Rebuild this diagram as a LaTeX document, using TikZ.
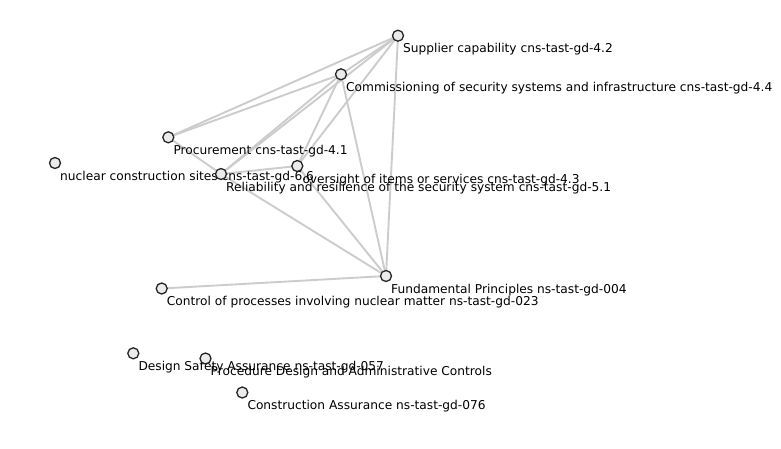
\documentclass[tikz,border=0pt]{standalone}
\usepackage{fontspec}
\setmainfont{DejaVu Sans}
\begin{document}
\begin{tikzpicture}[x=1pt,y=-1pt,
  vert/.style={circle,draw=black!85,line width=1.3pt,fill=black!8,minimum size=11pt,inner sep=0pt},
  edge/.style={draw=black!20,line width=1.9pt},
  lab/.style={anchor=base west,inner sep=0pt,font=\fontsize{12.2pt}{14pt}\selectfont,text=black}]
\useasboundingbox[fill=white] (0,0) rectangle (781,448);
% vertices (positions)
\coordinate (cS) at (398,35.7);
\coordinate (cC) at (341,74.3);
\coordinate (cP) at (168.3,137.3);
\coordinate (cN) at (55,163);
\coordinate (cR) at (221,174);
\coordinate (cO) at (297.3,166);
\coordinate (cF) at (386,276);
\coordinate (cK) at (161.7,288.5);
\coordinate (cD) at (133.3,353.3);
\coordinate (cQ) at (205.5,358.5);
\coordinate (cA) at (242.3,392.5);
% edges
\draw[edge] (cP) -- (cS);
\draw[edge] (cP) -- (cC);
\draw[edge] (cP) -- (cR);
\draw[edge] (cS) -- (cC);
\draw[edge] (cS) -- (cR);
\draw[edge] (cS) -- (cO);
\draw[edge] (cS) -- (cF);
\draw[edge] (cC) -- (cR);
\draw[edge] (cC) -- (cO);
\draw[edge] (cC) -- (cF);
\draw[edge] (cR) -- (cO);
\draw[edge] (cR) -- (cF);
\draw[edge] (cO) -- (cF);
\draw[edge] (cK) -- (cF);
% nodes and labels
\node[vert] (N) at (cN) {};
\node[lab] (Nl) at ([shift={(5pt,-17pt)}]cN) {nuclear construction sites cns-tast-gd-6.6};
\node[vert] (P) at (cP) {};
\node[lab] (Pl) at ([shift={(5pt,-17pt)}]cP) {Procurement cns-tast-gd-4.1};
\node[vert] (S) at (cS) {};
\node[lab] (Sl) at ([shift={(5pt,-17pt)}]cS) {Supplier capability cns-tast-gd-4.2};
\node[vert] (C) at (cC) {};
\node[lab] (Cl) at ([shift={(5pt,-17pt)}]cC) {Commissioning of security systems and infrastructure cns-tast-gd-4.4};
\node[vert] (O) at (cO) {};
\node[lab] (Ol) at ([shift={(5pt,-17pt)}]cO) {oversight of items or services cns-tast-gd-4.3};
\node[vert] (R) at (cR) {};
\node[lab] (Rl) at ([shift={(5pt,-17pt)}]cR) {Reliability and resilience of the security system cns-tast-gd-5.1};
\node[vert] (F) at (cF) {};
\node[lab] (Fl) at ([shift={(5pt,-17pt)}]cF) {Fundamental Principles ns-tast-gd-004};
\node[vert] (K) at (cK) {};
\node[lab] (Kl) at ([shift={(5pt,-17pt)}]cK) {Control of processes involving nuclear matter ns-tast-gd-023};
\node[vert] (D) at (cD) {};
\node[lab] (Dl) at ([shift={(5pt,-17pt)}]cD) {Design Safety Assurance ns-tast-gd-057};
\node[vert] (Q) at (cQ) {};
\node[lab] (Ql) at ([shift={(5pt,-17pt)}]cQ) {Procedure Design and Administrative Controls};
\node[vert] (A) at (cA) {};
\node[lab] (Al) at ([shift={(5pt,-17pt)}]cA) {Construction Assurance ns-tast-gd-076};
\end{tikzpicture}
\end{document}
